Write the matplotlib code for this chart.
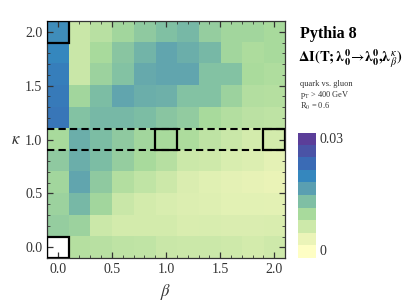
import numpy as np
import matplotlib
matplotlib.use("Agg")
import matplotlib.pyplot as plt
from matplotlib.colors import LinearSegmentedColormap, ListedColormap
from matplotlib.patches import Rectangle
from matplotlib.ticker import MultipleLocator

plt.rcParams['font.family'] = ['Liberation Serif', 'DejaVu Serif']
plt.rcParams['mathtext.fontset'] = 'stix'

beta = np.round(np.arange(0, 2.01, 0.2), 1)
kappa = np.round(np.arange(0, 2.01, 0.2), 1)

# delta I values, rows = kappa (0 -> 2.0), cols = beta (0 -> 2.0)
dI = np.array([
    [np.nan, 0.0088, 0.0085, 0.0080, 0.0078, 0.0070, 0.0068, 0.0068, 0.0065, 0.0060, 0.0065],
    [0.0115, 0.0110, 0.0068, 0.0060, 0.0060, 0.0060, 0.0053, 0.0055, 0.0052, 0.0052, 0.0053],
    [0.0110, 0.0140, 0.0105, 0.0070, 0.0060, 0.0055, 0.0050, 0.0048, 0.0043, 0.0043, 0.0042],
    [0.0105, 0.0160, 0.0120, 0.0090, 0.0078, 0.0067, 0.0052, 0.0045, 0.0040, 0.0038, 0.0035],
    [0.0120, 0.0150, 0.0135, 0.0115, 0.0100, 0.0087, 0.0068, 0.0065, 0.0055, 0.0050, 0.0040],
    [0.0100, 0.0150, 0.0135, 0.0120, 0.0105, 0.0100, 0.0095, 0.0080, 0.0070, 0.0060, 0.0060],
    [0.0220, 0.0130, 0.0140, 0.0140, 0.0135, 0.0125, 0.0118, 0.0100, 0.0090, 0.0083, 0.0080],
    [0.0215, 0.0105, 0.0135, 0.0160, 0.0150, 0.0148, 0.0130, 0.0130, 0.0110, 0.0090, 0.0088],
    [0.0210, 0.0070, 0.0110, 0.0130, 0.0155, 0.0160, 0.0160, 0.0130, 0.0130, 0.0098, 0.0093],
    [0.0200, 0.0070, 0.0100, 0.0125, 0.0145, 0.0160, 0.0150, 0.0140, 0.0105, 0.0095, 0.0100],
    [0.0190, 0.0070, 0.0085, 0.0105, 0.0120, 0.0132, 0.0140, 0.0115, 0.0105, 0.0105, 0.0100],
])

# boxed cells (beta, kappa)
boxes = [(0.0, 0.0), (0.0, 2.0), (1.0, 1.0), (2.0, 1.0)]

band_colors = ['#FEFEC4', '#EBF4B8', '#CDE9AA', '#A8DA9C', '#7FBFA4',
               '#5A9FB1', '#3587BE', '#3A6BB5', '#4A53A6', '#5B3E99']
cmap = LinearSegmentedColormap.from_list('yg', band_colors)
cmap.set_bad('white')

fig = plt.figure(figsize=(4.09, 3.08), dpi=100)
ax = fig.add_axes([0.115, 0.162, 0.582, 0.770])

ax.imshow(np.ma.masked_invalid(dI), cmap=cmap, vmin=0, vmax=0.03, origin='lower',
          extent=(-0.1, 2.1, -0.1, 2.1), aspect='auto', interpolation='nearest')

for b, k in boxes:
    ax.add_patch(Rectangle((b - 0.1, k - 0.1), 0.2, 0.2, fill=False,
                           ec='black', lw=1.6, zorder=5))
for yl in (0.9, 1.1):
    ax.plot([-0.1, 2.1], [yl, yl], ls=(0, (3.5, 2)), color='black', lw=1.5, zorder=4)

ax.set_xlim(-0.1, 2.1)
ax.set_ylim(-0.1, 2.1)
ax.xaxis.set_major_locator(MultipleLocator(0.5))
ax.yaxis.set_major_locator(MultipleLocator(0.5))
ax.xaxis.set_minor_locator(MultipleLocator(0.1))
ax.yaxis.set_minor_locator(MultipleLocator(0.1))
ax.xaxis.set_major_formatter(lambda v, p: f"{v:.1f}")
ax.yaxis.set_major_formatter(lambda v, p: f"{v:.1f}")
ax.tick_params(which='both', direction='in', top=True, right=True, color='#333333')
ax.tick_params(which='major', length=4, width=0.9, labelsize=10, labelcolor='#333333')
ax.tick_params(which='minor', length=2, width=0.6)
for s in ax.spines.values():
    s.set_linewidth(0.9)
    s.set_color('#333333')

ax.set_xlabel(r'$\beta$', fontsize=12, color='#333333', labelpad=4)
ax.set_ylabel(r'$\kappa$', fontsize=12, color='#333333', rotation=0, labelpad=6, va='center')
ax.yaxis.set_label_coords(-0.13, 0.5)

# discrete colorbar
cax = fig.add_axes([0.729, 0.162, 0.042, 0.406])
cb_cmap = ListedColormap(band_colors)
cax.imshow(np.arange(10).reshape(-1, 1), cmap=cb_cmap, origin='lower', aspect='auto',
           extent=(0, 1, 0, 0.03))
cax.set_xlim(0, 1)
cax.set_ylim(0, 0.03)
cax.axis('off')
cax.text(1.25, 0.0285, '0.03', fontsize=10, va='center', ha='left', color='#333333')
cax.text(1.25, 0.0015, '0', fontsize=10, va='center', ha='left', color='#333333')

fig.text(0.733, 0.89, 'Pythia 8', fontsize=11.5, fontweight='bold', va='center')
fig.text(0.728, 0.81,
         r'$\mathbf{\Delta I(T;}\boldsymbol{\lambda}_\mathbf{0}^\mathbf{0}\!\rightarrow\!'
         r'\boldsymbol{\lambda}_\mathbf{0}^\mathbf{0}\mathbf{,}\boldsymbol{\lambda}_\beta^\kappa\mathbf{)}$',
         fontsize=10.5, va='center')
fig.text(0.733, 0.727, 'quark vs. gluon', fontsize=6, va='center', color='#333333')
fig.text(0.733, 0.691, r'p$_{\rm T}$ > 400 GeV', fontsize=6, va='center', color='#333333')
fig.text(0.733, 0.655, r'R$_0$ = 0.6', fontsize=6, va='center', color='#333333')

fig.savefig('out.png', dpi=100)
